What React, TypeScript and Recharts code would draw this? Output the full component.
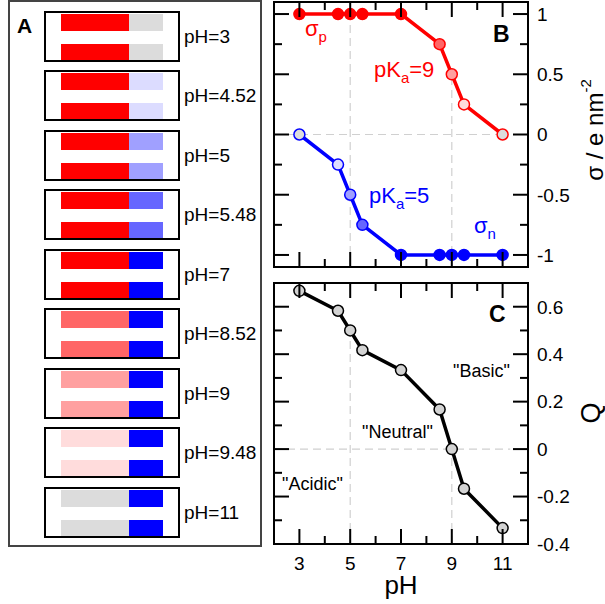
import React from 'react';
import { LineChart, Line, XAxis, YAxis, ReferenceLine, BarChart, Bar } from 'recharts';

// ---- data ----
const pH = [3, 4.52, 5, 5.48, 7, 8.52, 9, 9.48, 11];
const pHLabels = ['3', '4.52', '5', '5.48', '7', '8.52', '9', '9.48', '11'];
const sigmaP = [1, 1, 1, 1, 1, 0.75, 0.5, 0.25, 0];
const sigmaN = [0, -0.25, -0.5, -0.75, -1, -1, -1, -1, -1];
const netQ = [0.667, 0.583, 0.5, 0.417, 0.333, 0.167, 0, -0.167, -0.333];
const redShade = ['#ff0000', '#ff0000', '#ff0000', '#ff0000', '#ff0000', '#ff6666', '#ffa0a0', '#ffdcdc', '#dcdcdc'];
const blueShade = ['#dcdcdc', '#dcdcff', '#a0a0ff', '#6666ff', '#0000ff', '#0000ff', '#0000ff', '#0000ff', '#0000ff'];
const pHTicks = [3, 4, 5, 6, 7, 8, 9, 10, 11];
const pHMajor = [3, 5, 7, 9, 11];
const sigmaTicks = [-1, -0.75, -0.5, -0.25, 0, 0.25, 0.5, 0.75, 1];
const sigmaMajor = [-1, -0.5, 0, 0.5, 1];
const qTicks = [-0.4, -0.3, -0.2, -0.1, 0, 0.1, 0.2, 0.3, 0.4, 0.5, 0.6];
const qMajor = [-0.4, -0.2, 0, 0.2, 0.4, 0.6];
const slabRows = ['upper', 'lower'];
const layerShare = { pos: 2, neg: 1 };

const chartData = pH.map((p, i) => ({ pH: p, sp: sigmaP[i], sn: sigmaN[i], q: netQ[i] }));

// ---- style / layout ----
const FONT = '"Liberation Sans", Arial, Helvetica, sans-serif';
const Q_FILL = '#d3d3d3';
const GRID = '#d0d0d0';
const frameLine = { stroke: '#000', strokeWidth: 2, strokeLinecap: 'square' as const };
const X_DOM: [number, number] = [2, 12];
const B_DOM: [number, number] = [-1.1, 1.1];
const C_DOM: [number, number] = [-0.4, 0.7];
const MAJOR_PX = 15;
const MINOR_PX = 8;
// plot frames (follow from chart sizes and margins below)
const PLOT_L = 274;
const PLOT_R = 528;
const B_TOP = 2;
const B_BOT = 267;
const C_TOP = 283;
const C_BOT = 544;

const isIn = (list: number[], v: number) => list.some((m) => Math.abs(m - v) < 1e-9);

const makeRightLabels = (majors: number[]) => (props: any) => {
  const { x, y, payload } = props;
  if (!isIn(majors, payload.value)) return <g />;
  return (
    <text x={x + 9} y={y} dy="0.36em" textAnchor="start" fontSize={19} fontFamily={FONT} fill="#000">
      {String(payload.value)}
    </text>
  );
};
const makeBottomLabels = (majors: number[]) => (props: any) => {
  const { x, y, payload } = props;
  if (!isIn(majors, payload.value)) return <g />;
  return (
    <text x={x} y={y + 26} textAnchor="middle" fontSize={19} fontFamily={FONT} fill="#000">
      {String(payload.value)}
    </text>
  );
};
const emptyTick = () => <g />;
const sigmaLabels = makeRightLabels(sigmaMajor);
const qLabels = makeRightLabels(qMajor);
const pHLabelsTick = makeBottomLabels(pHMajor);

const makeDot = (fills: string[], stroke: string) => (props: any) => (
  <circle key={`d${props.index}`} cx={props.cx} cy={props.cy} r={5.5} fill={fills[props.index]} stroke={stroke} strokeWidth={1.5} />
);
const redDot = makeDot(redShade, '#ff0000');
const blueDot = makeDot(blueShade, '#0000ff');
const qDot = makeDot(pH.map(() => Q_FILL), '#000');

const dash = { stroke: GRID, strokeDasharray: '8 5', strokeWidth: 1.2 };

function PanelB() {
  return (
    <LineChart width={343} height={268} data={chartData} margin={{ top: 0, right: 0, bottom: 1, left: 11 }}>
      <XAxis xAxisId="b" dataKey="pH" type="number" domain={X_DOM} ticks={pHTicks} interval={0} allowDataOverflow height={1}
        tickSize={0} tickMargin={0} tickLine={false} axisLine={frameLine} tick={emptyTick} />
      <XAxis xAxisId="t" orientation="top" dataKey="pH" type="number" domain={X_DOM} ticks={pHTicks} interval={0} allowDataOverflow height={1}
        tickSize={0} tickMargin={0} tickLine={false} axisLine={frameLine} tick={emptyTick} />
      <YAxis yAxisId="r" orientation="right" type="number" domain={B_DOM} ticks={sigmaTicks} interval={0} allowDataOverflow width={77}
        tickSize={0} tickMargin={0} tickLine={false} axisLine={frameLine} tick={sigmaLabels} />
      <YAxis yAxisId="l" orientation="left" type="number" domain={B_DOM} ticks={sigmaTicks} interval={0} allowDataOverflow width={1}
        tickSize={0} tickMargin={0} tickLine={false} axisLine={frameLine} tick={emptyTick} />
      <ReferenceLine xAxisId="b" yAxisId="r" segment={[{ x: 5, y: -1.1 }, { x: 5, y: 1 }]} {...dash} />
      <ReferenceLine xAxisId="b" yAxisId="r" segment={[{ x: 9, y: -1.1 }, { x: 9, y: 0.5 }]} {...dash} />
      <ReferenceLine xAxisId="b" yAxisId="r" segment={[{ x: 2, y: 0 }, { x: 11, y: 0 }]} {...dash} />
      <Line xAxisId="b" yAxisId="r" dataKey="sp" stroke="#ff0000" strokeWidth={3.5} isAnimationActive={false} dot={redDot} activeDot={false} />
      <Line xAxisId="b" yAxisId="r" dataKey="sn" stroke="#0000ff" strokeWidth={3.5} isAnimationActive={false} dot={blueDot} activeDot={false} />
    </LineChart>
  );
}

function PanelC() {
  return (
    <LineChart width={343} height={322} data={chartData} margin={{ top: 0, right: 0, bottom: 0, left: 11 }}>
      <XAxis xAxisId="b" dataKey="pH" type="number" domain={X_DOM} ticks={pHTicks} interval={0} allowDataOverflow height={60}
        tickSize={0} tickMargin={0} tickLine={false} axisLine={frameLine} tick={pHLabelsTick} />
      <XAxis xAxisId="t" orientation="top" dataKey="pH" type="number" domain={X_DOM} ticks={pHTicks} interval={0} allowDataOverflow height={1}
        tickSize={0} tickMargin={0} tickLine={false} axisLine={frameLine} tick={emptyTick} />
      <YAxis yAxisId="r" orientation="right" type="number" domain={C_DOM} ticks={qTicks} interval={0} allowDataOverflow width={77}
        tickSize={0} tickMargin={0} tickLine={false} axisLine={frameLine} tick={qLabels} />
      <YAxis yAxisId="l" orientation="left" type="number" domain={C_DOM} ticks={qTicks} interval={0} allowDataOverflow width={1}
        tickSize={0} tickMargin={0} tickLine={false} axisLine={frameLine} tick={emptyTick} />
      <ReferenceLine xAxisId="b" yAxisId="r" segment={[{ x: 5, y: -0.4 }, { x: 5, y: 0.5 }]} {...dash} />
      <ReferenceLine xAxisId="b" yAxisId="r" segment={[{ x: 9, y: -0.4 }, { x: 9, y: 0 }]} {...dash} />
      <ReferenceLine xAxisId="b" yAxisId="r" segment={[{ x: 2, y: 0 }, { x: 11.3, y: 0 }]} {...dash} />
      <Line xAxisId="b" yAxisId="r" dataKey="q" stroke="#000" strokeWidth={3.5} isAnimationActive={false} dot={qDot} activeDot={false} />
    </LineChart>
  );
}

function PanelA() {
  return (
    <>
      <div style={{ position: 'absolute', left: 8, top: 0, width: 254, height: 547, border: '2px solid #444', boxSizing: 'border-box' }} />
      {pHLabels.map((lab, i) => {
        const rows = slabRows.map((r) => ({ row: r, pos: layerShare.pos, neg: layerShare.neg }));
        return (
          <div key={lab} style={{ position: 'absolute', left: 44, top: Math.floor(11 + 59.5 * i), width: 136, height: 51, border: '2px solid #000', boxSizing: 'border-box', overflow: 'hidden' }}>
            <div style={{ position: 'absolute', top: -6.5, left: 0 }}>
              <BarChart width={132} height={60} data={rows} layout="vertical" margin={{ top: 0, right: 15, bottom: 0, left: 15 }} barSize={17}>
                <XAxis type="number" domain={[0, 3]} hide />
                <YAxis type="category" dataKey="row" hide />
                <Bar dataKey="pos" stackId="s" fill={redShade[i]} isAnimationActive={false} />
                <Bar dataKey="neg" stackId="s" fill={blueShade[i]} isAnimationActive={false} />
              </BarChart>
            </div>
          </div>
        );
      })}
    </>
  );
}

// inward frame ticks for panels B and C (positions follow the axis domains and plot frames)
function FrameTicks({ yTicks, yMajor, yDom, top, bot }: { yTicks: number[]; yMajor: number[]; yDom: [number, number]; top: number; bot: number }) {
  const xp = (v: number) => PLOT_L + ((v - X_DOM[0]) / (X_DOM[1] - X_DOM[0])) * (PLOT_R - PLOT_L);
  const yp = (v: number) => top + ((yDom[1] - v) / (yDom[1] - yDom[0])) * (bot - top);
  const segs: number[][] = [];
  pHTicks.forEach((v) => {
    const L = isIn(pHMajor, v) ? MAJOR_PX : MINOR_PX;
    segs.push([xp(v), bot, xp(v), bot - L]);
    segs.push([xp(v), top, xp(v), top + L]);
  });
  yTicks.forEach((v) => {
    const L = isIn(yMajor, v) ? MAJOR_PX : MINOR_PX;
    segs.push([PLOT_L, yp(v), PLOT_L + L, yp(v)]);
    segs.push([PLOT_R, yp(v), PLOT_R - L, yp(v)]);
  });
  return (
    <g>
      {segs.map((s, i) => (
        <line key={i} x1={s[0]} y1={s[1]} x2={s[2]} y2={s[3]} stroke="#000" strokeWidth={2} />
      ))}
    </g>
  );
}

function Overlay() {
  const t = { fontFamily: FONT };
  return (
    <svg width={605} height={604} style={{ position: 'absolute', left: 0, top: 0, pointerEvents: 'none' }}>
      <FrameTicks yTicks={sigmaTicks} yMajor={sigmaMajor} yDom={B_DOM} top={B_TOP} bot={B_BOT} />
      <FrameTicks yTicks={qTicks} yMajor={qMajor} yDom={C_DOM} top={C_TOP} bot={C_BOT} />
      <text x={17} y={33} fontSize={21} fontWeight="bold" {...t}>A</text>
      <text x={493} y={41.5} fontSize={23} fontWeight="bold" {...t}>B</text>
      <text x={489} y={322} fontSize={23} fontWeight="bold" {...t}>C</text>
      {pHLabels.map((lab, i) => (
        <text key={lab} x={184} y={Math.floor(11 + 59.5 * i) + 32} fontSize={19} {...t}>{`pH=${lab}`}</text>
      ))}
      <text x={305} y={36} fontSize={22} fill="#ff0000" {...t}>σ<tspan fontSize={15} dy={6}>p</tspan></text>
      <text x={374} y={77} fontSize={22} fill="#ff0000" {...t}>pK<tspan fontSize={15} dy={6}>a</tspan><tspan dy={-6}>=9</tspan></text>
      <text x={369} y={203} fontSize={22} fill="#0000ff" {...t}>pK<tspan fontSize={15} dy={6}>a</tspan><tspan dy={-6}>=5</tspan></text>
      <text x={474} y={233} fontSize={22} fill="#0000ff" {...t}>σ<tspan fontSize={15} dy={6}>n</tspan></text>
      <text x={453} y={377} fontSize={18} {...t}>"Basic"</text>
      <text x={362} y={438} fontSize={18} {...t}>"Neutral"</text>
      <text x={282} y={490} fontSize={18} {...t}>"Acidic"</text>
      <text x={401} y={594} fontSize={26} textAnchor="middle" {...t}>pH</text>
      <text x={600} y={413} fontSize={27} textAnchor="middle" transform="rotate(-90 600 413)" {...t}>Q</text>
      <text x={603} y={130} fontSize={24} textAnchor="middle" transform="rotate(-90 603 130)" {...t}>
        σ / e nm<tspan fontSize={15} dy={-12}>-2</tspan>
      </text>
    </svg>
  );
}

export default function App() {
  return (
    <div style={{ position: 'absolute', left: 0, top: 0, width: 605, height: 604, background: '#fff', overflow: 'hidden' }}>
      <PanelA />
      <div style={{ position: 'absolute', left: 262, top: 1 }}>
        <PanelB />
      </div>
      <div style={{ position: 'absolute', left: 262, top: 282 }}>
        <PanelC />
      </div>
      <Overlay />
    </div>
  );
}
